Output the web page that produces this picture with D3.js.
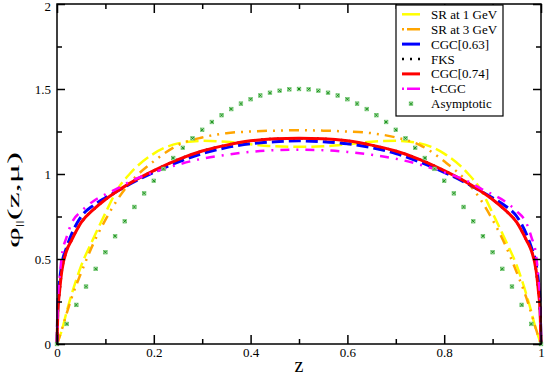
<!DOCTYPE html>
<meta charset="utf-8">
<script src="https://d3js.org/d3.v7.min.js"></script>
<style>
  body { margin: 0; background: #fff; }
  text { font-family: "Liberation Serif", "Times New Roman", Times, serif; }
</style>
<div id="chart"></div>
<script>
  var zGrid = [0, 0.002, 0.005, 0.01, 0.02, 0.03, 0.05, 0.075, 0.1, 0.125, 0.15, 0.2, 0.25, 0.3, 0.35, 0.4, 0.45,
               0.5,
               0.55, 0.6, 0.65, 0.7, 0.75, 0.8, 0.85, 0.875, 0.9, 0.925, 0.95, 0.97, 0.98, 0.99, 0.995, 0.998, 1];

  var srAt1GeV = [0, 0.015, 0.04, 0.08, 0.19, 0.29, 0.46, 0.62, 0.77, 0.91, 1.0, 1.12, 1.18, 1.195, 1.19, 1.175, 1.163,
                  1.16,
                  1.163, 1.175, 1.19, 1.195, 1.18, 1.12, 1.0, 0.91, 0.77, 0.62, 0.46, 0.29, 0.19, 0.08, 0.04, 0.015, 0];
  var srAt3GeV = [0, 0.015, 0.04, 0.085, 0.18, 0.27, 0.42, 0.59, 0.73, 0.85, 0.945, 1.075, 1.17, 1.215, 1.24, 1.25, 1.255,
                  1.258,
                  1.255, 1.25, 1.24, 1.215, 1.17, 1.075, 0.945, 0.85, 0.73, 0.59, 0.42, 0.27, 0.18, 0.085, 0.04, 0.015, 0];
  var cgc063 = [0, 0.25, 0.36, 0.47, 0.57, 0.645, 0.75, 0.815, 0.86, 0.9, 0.94, 1.01, 1.07, 1.12, 1.155, 1.178, 1.19,
                1.195,
                1.19, 1.178, 1.155, 1.12, 1.07, 1.01, 0.94, 0.9, 0.86, 0.815, 0.75, 0.645, 0.57, 0.47, 0.36, 0.25, 0];
  var fks = [0, 0.2, 0.3, 0.43, 0.55, 0.61, 0.715, 0.79, 0.85, 0.9, 0.945, 1.02, 1.085, 1.135, 1.17, 1.195, 1.207,
             1.21,
             1.207, 1.195, 1.17, 1.135, 1.085, 1.02, 0.945, 0.9, 0.85, 0.79, 0.715, 0.61, 0.55, 0.43, 0.3, 0.2, 0];
  var cgc074 = [0, 0.2, 0.3, 0.43, 0.55, 0.61, 0.715, 0.79, 0.85, 0.9, 0.945, 1.02, 1.085, 1.135, 1.17, 1.195, 1.207,
                1.21,
                1.207, 1.195, 1.17, 1.135, 1.085, 1.02, 0.945, 0.9, 0.85, 0.79, 0.715, 0.61, 0.55, 0.43, 0.3, 0.2, 0];
  var tCgc = [0, 0.27, 0.38, 0.52, 0.63, 0.71, 0.78, 0.84, 0.88, 0.915, 0.955, 1.01, 1.055, 1.09, 1.113, 1.13, 1.14,
              1.143,
              1.14, 1.13, 1.113, 1.09, 1.055, 1.01, 0.955, 0.915, 0.88, 0.84, 0.78, 0.71, 0.63, 0.52, 0.38, 0.27, 0];

  // asymptotic points (markers only)
  var zAsym = [0, 0.02, 0.04, 0.06, 0.08, 0.1, 0.12, 0.14, 0.16, 0.18, 0.2, 0.22, 0.24, 0.26, 0.28, 0.3, 0.32, 0.34,
               0.36, 0.38, 0.4, 0.42, 0.44, 0.46, 0.48, 0.5, 0.52, 0.54, 0.56, 0.58, 0.6, 0.62, 0.64, 0.66, 0.68, 0.7,
               0.72, 0.74, 0.76, 0.78, 0.8, 0.82, 0.84, 0.86, 0.88, 0.9, 0.92, 0.94, 0.96, 0.98, 1];
  var asymptotic = [0, 0.118, 0.23, 0.338, 0.442, 0.54, 0.634, 0.722, 0.806, 0.886, 0.96, 1.03, 1.094, 1.154, 1.21,
                    1.26, 1.306, 1.346, 1.382, 1.414, 1.44, 1.462, 1.478, 1.49, 1.498, 1.5, 1.498, 1.49, 1.478, 1.462,
                    1.44, 1.414, 1.382, 1.346, 1.306, 1.26, 1.21, 1.154, 1.094, 1.03, 0.96, 0.886, 0.806, 0.722,
                    0.634, 0.54, 0.442, 0.338, 0.23, 0.118, 0];

  var xTicks = [0, 0.2, 0.4, 0.6, 0.8, 1];
  var xMinorTicks = [0.1, 0.3, 0.5, 0.7, 0.9];
  var yTicks = [0, 0.5, 1, 1.5, 2];
  var yMinorTicks = [0.25, 0.75, 1.25, 1.75];

  var legendNames = ["SR at 1 GeV", "SR at 3 GeV", "CGC[0.63]", "FKS", "CGC[0.74]", "t-CGC", "Asymptotic"];

  // line styles, same order as the legend
  var series = [
    {values: srAt1GeV, color: "#ffff00", width: 2.5, dash: "13,5", legendDash: null},
    {values: srAt3GeV, color: "#ffa500", width: 2.5, dash: "10,6,2,6,2,6", legendDash: "2,3,16"},
    {values: cgc063,   color: "#0000ff", width: 3,   dash: "12,5", legendDash: null},
    {values: fks,      color: "#000000", width: 2.5, dash: "2,6", legendDash: "2,6"},
    {values: cgc074,   color: "#ff0000", width: 3,   dash: null, legendDash: null},
    {values: tCgc,     color: "#ff00ff", width: 2.5, dash: "9,7,2,7", legendDash: "2,3,16"}
  ];
  var asymColor = "#138a13";

  // set the dimensions and margins of the graph
  var margin = {top: 4, right: 4, bottom: 32, left: 57},
      width = 545 - margin.left - margin.right,
      height = 376 - margin.top - margin.bottom;

  var root = d3.select("#chart")
    .append("svg")
      .attr("width", 545)
      .attr("height", 376);

  var svg = root.append("g")
      .attr("transform", "translate(" + margin.left + "," + margin.top + ")");

  var x = d3.scaleLinear().domain([0, 1]).range([0, width]);
  var y = d3.scaleLinear().domain([0, 2]).range([height, 0]);

  // curves
  var line = d3.line()
    .x(function(d) { return x(d[0]); })
    .y(function(d) { return y(d[1]); })
    .curve(d3.curveMonotoneX);

  series.forEach(function(s) {
    svg.append("path")
      .datum(zGrid.map(function(z, i) { return [z, s.values[i]]; }))
      .attr("fill", "none")
      .attr("stroke", s.color)
      .attr("stroke-width", s.width)
      .attr("stroke-dasharray", s.dash)
      .attr("d", line);
  });

  // asymptotic markers: small square with a cross
  function drawMarker(g) {
    g.append("rect")
      .attr("x", -1.8).attr("y", -1.8).attr("width", 3.6).attr("height", 3.6)
      .attr("fill", "#b8e6b8").attr("stroke", "#6cc46c").attr("stroke-width", 0.7);
    g.append("path")
      .attr("d", "M-1.3,-1.3L1.3,1.3M-1.3,1.3L1.3,-1.3")
      .attr("stroke", asymColor).attr("stroke-width", 1);
  }
  svg.selectAll(".asym")
    .data(zAsym)
    .enter()
    .append("g")
      .attr("class", "asym")
      .attr("transform", function(d, i) { return "translate(" + x(d) + "," + y(asymptotic[i]) + ")"; })
      .each(function() { drawMarker(d3.select(this)); });

  // axes, ticks pointing inside
  function fixAxis(g) {
    g.select(".domain").remove();
    g.attr("font-family", null).attr("font-size", null);
    g.selectAll(".tick line").attr("stroke", "#000").attr("stroke-width", 1.5);
    g.selectAll(".tick text").attr("fill", "#000").style("font-size", "13px");
  }

  svg.append("g")
    .attr("transform", "translate(0," + height + ")")
    .call(d3.axisBottom(x).tickValues(xTicks).tickSize(-9).tickPadding(4).tickFormat(d3.format("")))
    .call(fixAxis);
  svg.append("g")
    .attr("transform", "translate(0," + height + ")")
    .call(d3.axisBottom(x).tickValues(xMinorTicks).tickSize(-5).tickFormat(""))
    .call(fixAxis);
  svg.append("g")
    .call(d3.axisTop(x).tickValues(xTicks).tickSize(-9).tickFormat(""))
    .call(fixAxis);
  svg.append("g")
    .call(d3.axisTop(x).tickValues(xMinorTicks).tickSize(-5).tickFormat(""))
    .call(fixAxis);

  svg.append("g")
    .call(d3.axisLeft(y).tickValues(yTicks).tickSize(-8).tickPadding(6).tickFormat(d3.format("")))
    .call(fixAxis);
  svg.append("g")
    .call(d3.axisLeft(y).tickValues(yMinorTicks).tickSize(-5).tickFormat(""))
    .call(fixAxis);
  svg.append("g")
    .attr("transform", "translate(" + width + ",0)")
    .call(d3.axisRight(y).tickValues(yTicks).tickSize(-8).tickFormat(""))
    .call(fixAxis);
  svg.append("g")
    .attr("transform", "translate(" + width + ",0)")
    .call(d3.axisRight(y).tickValues(yMinorTicks).tickSize(-5).tickFormat(""))
    .call(fixAxis);

  // keep the top "2" label inside the picture
  svg.selectAll(".tick text").filter(function(d) { return d === 2; }).attr("dy", "0.5em");

  // frame
  svg.append("rect")
    .attr("width", width)
    .attr("height", height)
    .attr("fill", "none")
    .attr("stroke", "#000")
    .attr("stroke-width", 1.5);

  // X axis label
  root.append("text")
    .attr("x", margin.left + width / 2)
    .attr("y", 372)
    .attr("text-anchor", "middle")
    .style("font-size", "20px")
    .text("z");

  // Y axis label
  var yLabel = root.append("text")
    .attr("transform", "translate(19,200) rotate(-90) scale(1.9,0.9)")
    .attr("text-anchor", "middle")
    .style("font-size", "19px");
  yLabel.append("tspan").text("φ");
  yLabel.append("tspan").attr("dy", 3).style("font-size", "9px").text("||");
  yLabel.append("tspan").attr("dy", -3).text("(z,μ)");

  // Legend
  var legend = root.append("g");
  legend.append("rect")
    .attr("x", 396).attr("y", 5)
    .attr("width", 107).attr("height", 111)
    .attr("fill", "#fff")
    .attr("stroke", "#000")
    .attr("stroke-width", 1.2);

  var rowY = function(i) { return 14.3 + i * 14.9; };

  legendNames.forEach(function(name, i) {
    if (i < series.length) {
      var s = series[i];
      legend.append("line")
        .attr("x1", 402).attr("x2", 420)
        .attr("y1", rowY(i)).attr("y2", rowY(i))
        .attr("stroke", s.color)
        .attr("stroke-width", s.width)
        .attr("stroke-dasharray", s.legendDash);
    } else {
      legend.append("g")
        .attr("transform", "translate(411," + rowY(i) + ")")
        .call(drawMarker);
    }
    legend.append("text")
      .attr("x", 431)
      .attr("y", rowY(i))
      .attr("dy", "0.35em")
      .style("font-size", "13px")
      .text(name);
  });
</script>
